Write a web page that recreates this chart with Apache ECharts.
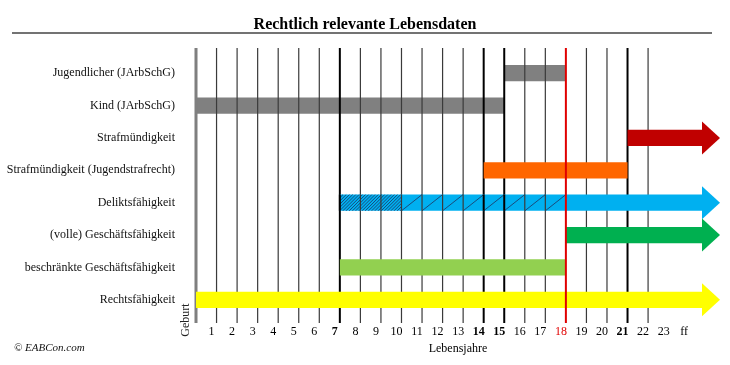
<!DOCTYPE html>
<html>
<head>
<meta charset="utf-8">
<script src="https://cdn.jsdelivr.net/npm/echarts@6/dist/echarts.min.js"></script>
<style>html,body{margin:0;padding:0;background:#fff}#c{width:730px;height:365px}</style>
</head>
<body>
<div id="c"></div>
<script>
// ---- data ----
const rows = ['Jugendlicher (JArbSchG)', 'Kind (JArbSchG)', 'Strafmündigkeit',
  'Strafmündigkeit (Jugendstrafrecht)', 'Deliktsfähigkeit', '(volle) Geschäftsfähigkeit',
  'beschränkte Geschäftsfähigkeit', 'Rechtsfähigkeit'];
const starts = [15, 0, 21, 14, 7, 18, 7, 0];
const ends = [18, 15, 'ff', 21, 'ff', 'ff', 18, 'ff'];   // 'ff' = open ended (arrow)
const tickLabels = ['Geburt', '1', '2', '3', '4', '5', '6', '7', '8', '9', '10', '11', '12',
  '13', '14', '15', '16', '17', '18', '19', '20', '21', '22', '23', 'ff'];
const yearLines = [0, 1, 2, 3, 4, 5, 6, 7, 8, 9, 10, 11, 12, 13, 14, 15, 16, 17, 18, 19, 20, 21, 22];
const deliktRow = 4;
const hatchDense = [7, 10];
const hatchSparse = [10, 18];
const boldYears = [7, 14, 15, 21];
const redYear = 18;

// ---- styles ----
const rowColors = ['#808080', '#808080', '#C00000', '#FF6600', '#00B0F0', '#00B050', '#92D050', '#FFFF00'];
const X_MAX = 25.5;
const serif = "'Liberation Serif', 'DejaVu Serif', serif";

function lineStyleFor(n) {
  if (n === 0) return { stroke: '#7f7f7f', lineWidth: 3 };
  if (n === redYear) return { stroke: '#e00000', lineWidth: 2 };
  if (boldYears.indexOf(n) >= 0) return { stroke: '#000', lineWidth: 2 };
  return { stroke: '#3a3a3a', lineWidth: 1.2 };
}

const barData = rows.map((r, i) => [starts[i], i, ends[i] === 'ff' ? X_MAX : ends[i], ends[i] === 'ff' ? 1 : 0]);
const behindData = barData.filter(d => rowColors[d[1]] === '#808080');
const frontData = barData.filter(d => rowColors[d[1]] !== '#808080');

function renderBar(params, api) {
  const s = api.value(0), i = api.value(1), e = api.value(2), arrow = api.value(3);
  const p0 = api.coord([s, i]);
  const p1 = api.coord([e, i]);
  const band = api.size([0, 1])[1];
  const h = band * 0.5;
  const color = rowColors[i];
  if (!arrow) {
    return { type: 'rect', shape: { x: p0[0], y: p0[1] - h / 2, width: p1[0] - p0[0], height: h },
      style: { fill: color } };
  }
  const headLen = 18, headH = band * 1.02;
  return { type: 'group', children: [
    { type: 'rect', shape: { x: p0[0], y: p0[1] - h / 2, width: p1[0] - headLen - p0[0] + 0.5, height: h },
      style: { fill: color } },
    { type: 'polygon', shape: { points: [[p1[0] - headLen, p0[1] - headH / 2], [p1[0], p0[1]], [p1[0] - headLen, p0[1] + headH / 2]] },
      style: { fill: color } }
  ] };
}

function renderLine(params, api) {
  const n = api.value(0);
  const x = api.coord([n, 0])[0];
  const cs = params.coordSys;
  return { type: 'line', shape: { x1: x, y1: cs.y - 9, x2: x, y2: cs.y + cs.height + 7 },
    style: lineStyleFor(n) };
}

function renderHatch(params, api) {
  const a = api.value(0), b = api.value(1), c = api.value(2), row = api.value(3);
  const band = api.size([0, 1])[1];
  const h = band * 0.5;
  const yc = api.coord([a, row])[1];
  const y0 = yc - h / 2, y1 = yc + h / 2;
  const xa = api.coord([a, row])[0], xb = api.coord([b, row])[0];
  const children = [];
  const hatch = { stroke: '#1c3f6e', lineWidth: 0.9 };
  for (let k = xa - h; k < xb; k += 3.2) {
    let sx = k, sy = y1, ex = k + h, ey = y0;
    if (sx < xa) { sy = y1 - (xa - sx); sx = xa; }
    if (ex > xb) { ey = y0 + (ex - xb); ex = xb; }
    if (ex > sx) children.push({ type: 'line', shape: { x1: sx, y1: sy, x2: ex, y2: ey }, style: hatch });
  }
  for (let n = b; n < c; n++) {
    const u = api.coord([n, row])[0], v = api.coord([n + 1, row])[0];
    children.push({ type: 'line', shape: { x1: u, y1: y1, x2: v, y2: y0 }, style: hatch });
  }
  for (let n = a; n < c; n++) {
    const u = api.coord([n, row])[0];
    children.push({ type: 'line', shape: { x1: u, y1: y0, x2: u, y2: y1 }, style: lineStyleFor(n) });
  }
  return { type: 'group', children };
}

const chart = echarts.init(document.getElementById('c'), null, { renderer: 'canvas' });
chart.setOption({
  animation: false,
  backgroundColor: '#fff',
  title: { text: 'Rechtlich relevante Lebensdaten', left: 'center', top: 12,
    textStyle: { fontFamily: serif, fontSize: 16, fontWeight: 'bold', color: '#000' } },
  grid: { left: 196, right: 10, top: 57, bottom: 49 },
  xAxis: {
    type: 'value', min: 0, max: X_MAX, interval: 1,
    axisLine: { show: false }, axisTick: { show: false }, splitLine: { show: false },
    name: 'Lebensjahre', nameLocation: 'middle', nameGap: 26,
    nameTextStyle: { fontFamily: serif, fontSize: 12, color: '#000' },
    axisLabel: {
      margin: 10, fontFamily: serif, fontSize: 12, color: '#000', padding: [0, 10, 0, 0],
      showMinLabel: true, showMaxLabel: true,
      formatter: function (v) {
        if (v < 1 || v >= tickLabels.length || v !== Math.round(v)) return '';
        const t = tickLabels[v];
        if (v === redYear) return '{r|' + t + '}';
        if (boldYears.indexOf(v) >= 0) return '{b|' + t + '}';
        return t;
      },
      rich: {
        b: { fontFamily: serif, fontSize: 12, fontWeight: 'bold', color: '#000' },
        r: { fontFamily: serif, fontSize: 12, color: '#e00000' }
      }
    }
  },
  yAxis: {
    type: 'category', data: rows, inverse: true,
    axisLine: { show: false }, axisTick: { show: false }, splitLine: { show: false },
    axisLabel: { margin: 21, fontFamily: serif, fontSize: 12, color: '#111' }
  },
  graphic: [
    { type: 'line', shape: { x1: 12, y1: 33, x2: 712, y2: 33 }, style: { stroke: '#444', lineWidth: 1.5 } },
    { type: 'text', x: 14, y: 348, style: { text: '© EABCon.com', font: "italic 11px 'Liberation Serif', serif", fill: '#111', verticalAlign: 'middle' } },
    { type: 'text', x: 186, y: 320, rotation: Math.PI / 2,
      style: { text: tickLabels[0], font: "12px 'Liberation Serif', serif", fill: '#222', align: 'center', verticalAlign: 'middle' } }
  ],
  series: [
    { type: 'custom', z: 1, clip: false, renderItem: renderBar, data: behindData, encode: { x: [0, 2], y: 1 } },
    { type: 'custom', z: 2, clip: false, renderItem: renderLine, data: yearLines.filter(n => n !== redYear).map(n => [n, 0]), encode: { x: 0, y: 1 } },
    { type: 'custom', z: 3, clip: false, renderItem: renderBar, data: frontData, encode: { x: [0, 2], y: 1 } },
    { type: 'custom', z: 4, clip: false, renderItem: renderHatch, data: [[hatchDense[0], hatchDense[1], hatchSparse[1], deliktRow]], encode: { x: [0, 2], y: 3 } },
    { type: 'custom', z: 5, clip: false, renderItem: renderLine, data: [[redYear, 0]], encode: { x: 0, y: 1 } }
  ]
});
</script>
</body>
</html>
